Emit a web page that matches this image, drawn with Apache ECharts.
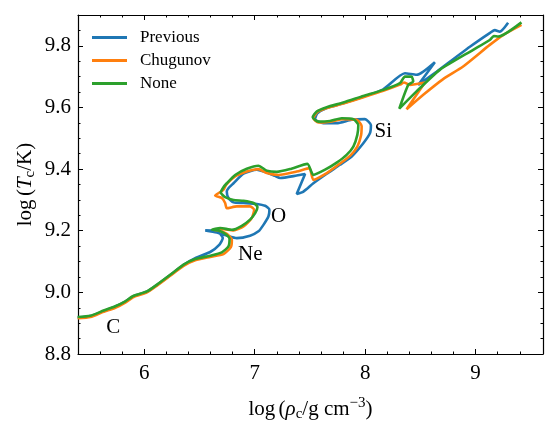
<!DOCTYPE html>
<html lang="en">
<head>
    <meta charset="UTF-8">
    <title>Central temperature vs density</title>
    <style>
        body { margin: 0; background: #fff; }
        #main { width: 558px; height: 429px; }
    </style>
</head>
<body>
    <div id="main"></div>
    <script src="https://cdn.jsdelivr.net/npm/echarts@6/dist/echarts.min.js"></script>
    <script>
        // log rho_c, log T_c pairs
        var previous = [
            [5.397, 8.918], [5.512, 8.923], [5.632, 8.939], [5.738, 8.954], [5.828, 8.970], [5.904, 8.988],
            [6.024, 9.002], [6.115, 9.024], [6.235, 9.056], [6.356, 9.089], [6.461, 9.111], [6.597, 9.131],
            [6.681, 9.155], [6.711, 9.176], [6.681, 9.192], [6.612, 9.200], [6.552, 9.201], [6.657, 9.194],
            [6.762, 9.182], [6.838, 9.176], [6.958, 9.184], [7.034, 9.198], [7.079, 9.219], [7.124, 9.246],
            [7.133, 9.268], [7.094, 9.281], [7.019, 9.287], [6.898, 9.290], [6.808, 9.292], [6.762, 9.306],
            [6.747, 9.327], [6.762, 9.338], [6.808, 9.354], [6.898, 9.385], [7.019, 9.398], [7.109, 9.389],
            [7.184, 9.378], [7.230, 9.371], [7.380, 9.379], [7.456, 9.384], [7.380, 9.319], [7.441, 9.327],
            [7.531, 9.354], [7.652, 9.385], [7.772, 9.414], [7.878, 9.441], [7.983, 9.484], [8.043, 9.516],
            [8.052, 9.543], [7.998, 9.562], [7.878, 9.560], [7.742, 9.549], [7.621, 9.549], [7.546, 9.562],
            [7.567, 9.581], [7.652, 9.598], [7.802, 9.614], [7.983, 9.635], [8.164, 9.659], [8.360, 9.711],
            [8.465, 9.706], [8.631, 9.747], [8.480, 9.673], [8.646, 9.716], [8.948, 9.797], [9.134, 9.843],
            [9.174, 9.851], [9.219, 9.846], [9.294, 9.875]
        ];
        var chugunov = [
            [5.397, 8.916], [5.512, 8.920], [5.632, 8.937], [5.738, 8.950], [5.828, 8.967], [5.904, 8.985],
            [6.024, 9.000], [6.115, 9.022], [6.235, 9.054], [6.356, 9.086], [6.461, 9.104], [6.597, 9.115],
            [6.717, 9.124], [6.784, 9.147], [6.793, 9.171], [6.747, 9.190], [6.672, 9.201], [6.621, 9.203],
            [6.702, 9.206], [6.808, 9.201], [6.898, 9.214], [6.973, 9.241], [6.995, 9.268], [6.958, 9.279],
            [6.838, 9.279], [6.747, 9.273], [6.732, 9.290], [6.702, 9.306], [6.642, 9.314], [6.681, 9.324],
            [6.717, 9.333], [6.741, 9.349], [6.823, 9.376], [6.928, 9.392], [7.034, 9.400], [7.109, 9.387],
            [7.215, 9.381], [7.380, 9.392], [7.495, 9.403], [7.531, 9.365], [7.652, 9.387], [7.757, 9.414],
            [7.863, 9.443], [7.929, 9.473], [7.962, 9.508], [7.968, 9.540], [7.923, 9.560], [7.802, 9.562],
            [7.682, 9.554], [7.576, 9.551], [7.531, 9.565], [7.567, 9.585], [7.652, 9.598], [7.802, 9.613],
            [7.983, 9.633], [8.164, 9.654], [8.315, 9.674], [8.351, 9.681], [8.405, 9.673], [8.541, 9.681],
            [8.375, 9.594], [8.526, 9.641], [8.706, 9.692], [8.887, 9.733], [9.128, 9.803], [9.249, 9.835],
            [9.415, 9.868]
        ];
        var none = [
            [5.397, 8.920], [5.512, 8.924], [5.632, 8.941], [5.738, 8.955], [5.828, 8.971], [5.904, 8.989],
            [6.024, 9.003], [6.115, 9.025], [6.235, 9.057], [6.356, 9.090], [6.461, 9.108], [6.597, 9.119],
            [6.702, 9.130], [6.762, 9.149], [6.772, 9.173], [6.732, 9.190], [6.672, 9.201], [6.612, 9.203],
            [6.687, 9.209], [6.793, 9.203], [6.883, 9.216], [6.958, 9.236], [7.004, 9.257], [7.025, 9.277],
            [6.989, 9.290], [6.898, 9.297], [6.808, 9.300], [6.732, 9.309], [6.693, 9.324], [6.717, 9.341],
            [6.747, 9.354], [6.823, 9.381], [6.928, 9.401], [7.034, 9.411], [7.109, 9.395], [7.200, 9.391],
            [7.320, 9.400], [7.477, 9.417], [7.531, 9.381], [7.637, 9.398], [7.742, 9.421], [7.832, 9.446],
            [7.893, 9.473], [7.929, 9.511], [7.938, 9.543], [7.893, 9.562], [7.787, 9.565], [7.682, 9.556],
            [7.576, 9.554], [7.525, 9.568], [7.561, 9.587], [7.652, 9.601], [7.802, 9.616], [7.983, 9.637],
            [8.164, 9.657], [8.315, 9.679], [8.360, 9.700], [8.420, 9.700], [8.435, 9.684], [8.390, 9.673],
            [8.309, 9.596], [8.465, 9.652], [8.676, 9.722], [8.978, 9.787], [9.128, 9.819], [9.165, 9.832],
            [9.204, 9.830], [9.415, 9.876]
        ];

        // burning stage labels: text, log rho, log T
        var stages = [['C', 5.72, 8.885], ['Ne', 6.96, 9.122], ['O', 7.215, 9.246], ['Si', 8.164, 9.522]];

        var xMajor = [6, 7, 8, 9];
        var xMinor = [5.6, 5.8, 6.2, 6.4, 6.6, 6.8, 7.2, 7.4, 7.6, 7.8, 8.2, 8.4, 8.6, 8.8, 9.2, 9.4];
        var yMajor = [8.8, 9.0, 9.2, 9.4, 9.6, 9.8];
        var yMinor = [8.85, 8.9, 8.95, 9.05, 9.1, 9.15, 9.25, 9.3, 9.35, 9.45, 9.5, 9.55,
                      9.65, 9.7, 9.75, 9.85];

        var font = 'Liberation Serif';
        var mathRich = {
            t: { fontFamily: font, fontSize: 21, lineHeight: 26, color: '#000' },
            i: { fontFamily: font, fontSize: 21, lineHeight: 26, fontStyle: 'italic', color: '#000' },
            s: { fontFamily: font, fontSize: 15, lineHeight: 14, verticalAlign: 'bottom', color: '#000' },
            p: { fontFamily: font, fontSize: 15, lineHeight: 12, verticalAlign: 'top', color: '#000' }
        };

        function xAxisDef(pos, ticks, len, main) {
            return {
                type: 'value', position: pos, min: 5.4, max: 9.61,
                axisLine: { show: main, onZero: false, lineStyle: { color: '#000', width: 1.2 } },
                axisTick: { show: true, inside: true, length: len, customValues: ticks,
                    lineStyle: { color: '#000', width: 1 } },
                axisLabel: { show: main && pos === 'bottom', customValues: ticks, margin: 9,
                    fontFamily: font, fontSize: 21, color: '#000' },
                splitLine: { show: false },
                name: main && pos === 'bottom' ? '{t|log} {t|(}{i|ρ}{s|c}{t|/g cm}{p|−3}{t|)}' : '',
                nameLocation: 'middle', nameGap: 42,
                nameTextStyle: { rich: mathRich }
            };
        }
        function yAxisDef(pos, ticks, len, main) {
            return {
                type: 'value', position: pos, min: 8.8, max: 9.9,
                axisLine: { show: main, onZero: false, lineStyle: { color: '#000', width: 1.2 } },
                axisTick: { show: true, inside: true, length: len, customValues: ticks,
                    lineStyle: { color: '#000', width: 1 } },
                axisLabel: { show: main && pos === 'left', customValues: ticks, margin: 7,
                    fontFamily: font, fontSize: 21, color: '#000',
                    formatter: function (v) { return v.toFixed(1); } },
                splitLine: { show: false },
                name: main && pos === 'left' ? '{t|log} {t|(}{i|T}{s|c}{t|/K)}' : '',
                nameLocation: 'middle', nameGap: 40, nameRotate: 90, nameMoveOverlap: false,
                nameTextStyle: { rich: mathRich }
            };
        }

        var chart = echarts.init(document.getElementById('main'));
        var option = {
            animation: false,
            backgroundColor: '#fff',
            grid: { left: 78, right: 15, top: 15, bottom: 75 },
            legend: {
                data: ['Previous', 'Chugunov', 'None'],
                orient: 'vertical', left: 92, top: 29, padding: 0,
                icon: 'rect', itemWidth: 35, itemHeight: 2.8, itemGap: 6,
                textStyle: { fontFamily: font, fontSize: 17, lineHeight: 17, color: '#000',
                    padding: [0, 0, 0, 8] }
            },
            xAxis: [
                xAxisDef('bottom', xMajor, 5, true),
                xAxisDef('top', xMajor, 5, true),
                xAxisDef('bottom', xMinor, 2.5, false),
                xAxisDef('top', xMinor, 2.5, false)
            ],
            yAxis: [
                yAxisDef('left', yMajor, 5, true),
                yAxisDef('right', yMajor, 5, true),
                yAxisDef('left', yMinor, 2.5, false),
                yAxisDef('right', yMinor, 2.5, false)
            ],
            series: [
                { name: 'Previous', type: 'line', data: previous, showSymbol: false, smooth: 0.2,
                  lineStyle: { width: 2.6, color: '#1f77b4' }, itemStyle: { color: '#1f77b4' } },
                { name: 'Chugunov', type: 'line', data: chugunov, showSymbol: false, smooth: 0.2,
                  lineStyle: { width: 2.6, color: '#ff7f0e' }, itemStyle: { color: '#ff7f0e' } },
                { name: 'None', type: 'line', data: none, showSymbol: false, smooth: 0.2,
                  lineStyle: { width: 2.6, color: '#2ca02c' }, itemStyle: { color: '#2ca02c' } },
                {
                    name: 'stages', type: 'scatter', symbolSize: 1, silent: true,
                    itemStyle: { color: 'transparent', opacity: 1 },
                    data: stages.map(function (s) { return { name: s[0], value: [s[1], s[2]] }; }),
                    label: { show: true, position: 'inside', formatter: '{b}', opacity: 1,
                        textBorderWidth: 0, fontFamily: font, fontSize: 21, color: '#000' }
                }
            ]
        };
        chart.setOption(option);
    </script>
</body>
</html>
